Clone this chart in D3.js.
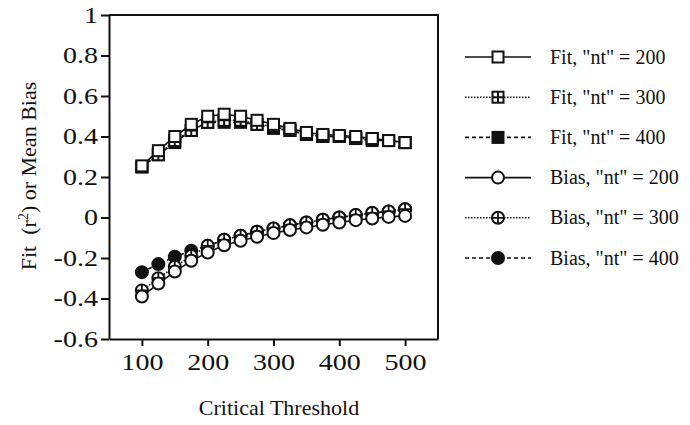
<!DOCTYPE html>
<html>
<head>
<meta charset="utf-8">
<script src="https://cdn.jsdelivr.net/npm/d3@7/dist/d3.min.js"></script>
<style>
  body { margin: 0; background: #fff; }
  svg text { font-family: "Liberation Serif", Tinos, "Times New Roman", Times, serif; fill: #111; }
</style>
</head>
<body>
<div id="chart-area"></div>
<script>
// values
var thresholds = [100, 125, 150, 175, 200, 225, 250, 275, 300, 325, 350, 375, 400, 425, 450, 475, 500];
var fit200  = [0.255, 0.33, 0.40, 0.46, 0.50, 0.51, 0.50, 0.48, 0.46, 0.44, 0.42, 0.41, 0.405, 0.40, 0.39, 0.38, 0.37];
var fit300  = [0.25, 0.31, 0.38, 0.43, 0.47, 0.48, 0.48, 0.46, 0.45, 0.43, 0.41, 0.40, 0.40, 0.39, 0.39, 0.38, 0.37];
var fit400  = [0.25, 0.31, 0.37, 0.43, 0.47, 0.47, 0.47, 0.46, 0.44, 0.43, 0.41, 0.40, 0.40, 0.39, 0.38, 0.38, 0.37];
var bias200 = [-0.39, -0.326, -0.267, -0.214, -0.173, -0.137, -0.115, -0.095, -0.077, -0.062, -0.049, -0.036, -0.025, -0.013, -0.005, 0.003, 0.008];
var bias300 = [-0.36, -0.30, -0.243, -0.19, -0.14, -0.11, -0.09, -0.07, -0.054, -0.038, -0.025, -0.011, 0, 0.012, 0.022, 0.03, 0.041];
var bias400 = [-0.27, -0.23, -0.194, -0.164, -0.14, -0.11, -0.09, -0.07, -0.054, -0.038, -0.025, -0.011, 0, 0.012, 0.022, 0.03, 0.041];
var xTicks = [100, 200, 300, 400, 500];
var yTicks = [-0.6, -0.4, -0.2, 0, 0.2, 0.4, 0.6, 0.8, 1];
var legendLabels = ['Fit, "nt" = 200', 'Fit, "nt" = 300', 'Fit, "nt" = 400',
                    'Bias, "nt" = 200', 'Bias, "nt" = 300', 'Bias, "nt" = 400'];

var width = 690, height = 425;
var serif = '"Liberation Serif", Tinos, "Times New Roman", Times, serif';
var stretch = 1.22;   // tick numerals in the scan are wide

var svg = d3.select("#chart-area")
    .append("svg")
        .attr("width", width)
        .attr("height", height)
        .attr("font-family", serif);

var xScale = d3.scaleLinear().domain([50, 550]).range([109, 438]);
var yScale = d3.scaleLinear().domain([-0.6, 1]).range([339, 15]);

// frame (top + right)
svg.append("path")
    .attr("d", "M" + xScale(50) + "," + yScale(1) + "H" + xScale(550) + "V" + yScale(-0.6))
    .attr("fill", "none")
    .attr("stroke", "#111")
    .attr("stroke-width", 2);

var xAxisCall = d3.axisBottom(xScale)
    .tickValues(xTicks)
    .tickSizeInner(7)
    .tickSizeOuter(0)
    .tickPadding(8)
    .tickFormat(function(d){ return d; });

var xAx = svg.append("g")
    .attr("class", "x axis")
    .attr("transform", "translate(0," + yScale(-0.6) + ")")
    .call(xAxisCall)
    .attr("font-family", serif);
xAx.selectAll("text")
    .attr("font-size", "23px")
    .attr("transform", "scale(" + stretch + ",1)");

var yAxisCall = d3.axisLeft(yScale)
    .tickValues(yTicks)
    .tickSizeInner(8)
    .tickSizeOuter(0)
    .tickPadding(3)
    .tickFormat(function(d){ return d; });

var yAx = svg.append("g")
    .attr("class", "y axis")
    .attr("transform", "translate(" + xScale(50) + ",0)")
    .call(yAxisCall)
    .attr("font-family", serif);
yAx.selectAll(".tick text")
    .attr("font-size", "23px")
    .attr("x", -11 / stretch)
    .attr("transform", "scale(" + stretch + ",1)");

svg.selectAll(".axis path, .axis line")
    .attr("stroke", "#111")
    .attr("stroke-width", 2);

// axis titles
svg.append("text")
    .attr("x", 279)
    .attr("y", 415)
    .attr("font-size", "22px")
    .attr("text-anchor", "middle")
    .text("Critical Threshold");

var yTitle = svg.append("text")
    .attr("transform", "translate(36,176) rotate(-90)")
    .attr("font-size", "22px")
    .attr("text-anchor", "middle");
yTitle.append("tspan").text("Fit\u00a0\u00a0(r");
yTitle.append("tspan").attr("font-size", "14px").attr("dy", "-8").text("2");
yTitle.append("tspan").attr("dy", "8").text(") or Mean Bias");

// series definitions
var series = [
    { values: fit400,  marker: "squareFilled", dash: "4,3" },
    { values: fit300,  marker: "squareCross",  dash: "1.5,1.5" },
    { values: fit200,  marker: "square",       dash: null },
    { values: bias400, marker: "circleFilled", dash: "4,3" },
    { values: bias300, marker: "circleCross",  dash: "1.5,1.5" },
    { values: bias200, marker: "circle",       dash: null }
];

function drawMarker(sel, type) {
    var s = 11, r = 6;
    if (type.indexOf("square") === 0) {
        sel.append("rect")
            .attr("x", -s / 2).attr("y", -s / 2)
            .attr("width", s).attr("height", s)
            .attr("fill", type === "squareFilled" ? "#111" : "#fff")
            .attr("stroke", "#111")
            .attr("stroke-width", 2);
        if (type === "squareCross") {
            sel.append("path")
                .attr("d", "M" + (-s / 2) + ",0H" + (s / 2) + "M0," + (-s / 2) + "V" + (s / 2))
                .attr("stroke", "#111").attr("stroke-width", 2);
        }
    } else {
        sel.append("circle")
            .attr("r", r)
            .attr("fill", type === "circleFilled" ? "#111" : "#fff")
            .attr("stroke", "#111")
            .attr("stroke-width", 2);
        if (type === "circleCross") {
            sel.append("path")
                .attr("d", "M" + (-r) + ",0H" + r + "M0," + (-r) + "V" + r)
                .attr("stroke", "#111").attr("stroke-width", 1.8);
        }
    }
}

var line = d3.line()
    .x(function(d, i) { return xScale(thresholds[i]); })
    .y(function(d) { return yScale(d); });

// lines first, markers on top
series.forEach(function(s) {
    svg.append("path")
        .attr("class", "line")
        .attr("d", line(s.values))
        .attr("fill", "none")
        .attr("stroke", "#111")
        .attr("stroke-width", 1.6)
        .attr("stroke-dasharray", s.dash);
});

series.forEach(function(s) {
    svg.append("g").selectAll("g")
        .data(s.values)
        .enter()
        .append("g")
            .attr("transform", function(d, i) {
                return "translate(" + xScale(thresholds[i]) + "," + yScale(d) + ")";
            })
            .each(function() { drawMarker(d3.select(this), s.marker); });
});

// legend
var legendOrder = [2, 1, 0, 5, 4, 3];
var legend = svg.append("g").attr("class", "legend");
legendOrder.forEach(function(k, i) {
    var s = series[k];
    var row = legend.append("g")
        .attr("transform", "translate(0," + (57 + i * 40.2) + ")");
    row.append("line")
        .attr("x1", 465).attr("x2", 531)
        .attr("stroke", "#111")
        .attr("stroke-width", 1.6)
        .attr("stroke-dasharray", s.dash);
    drawMarker(row.append("g").attr("transform", "translate(498,0)"), s.marker);
    row.append("text")
        .attr("x", 550)
        .attr("dy", "0.33em")
        .attr("font-size", "20px")
        .text(legendLabels[i]);
});
</script>
</body>
</html>
